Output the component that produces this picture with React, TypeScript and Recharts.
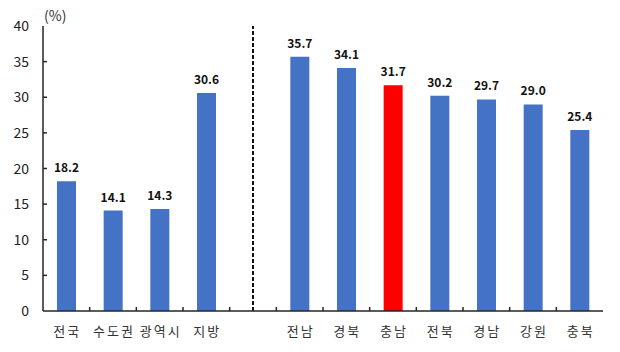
import { BarChart, Bar, XAxis, YAxis, Cell, LabelList, ReferenceLine } from "recharts";

const categories = ["전국", "수도권", "광역시", "지방", " ", "전남", "경북", "충남", "전북", "경남", "강원", "충북"];
const values = [18.2, 14.1, 14.3, 30.6, null, 35.7, 34.1, 31.7, 30.2, 29.7, 29.0, 25.4];
const highlight = "충남";
const yTicks = [0, 5, 10, 15, 20, 25, 30, 35, 40];

const data = categories.map((name, i) => ({ name, value: values[i] }));

const BLUE = "#4472C4";
const RED = "#FF0000";
const AXIS = "#262626";
const FONT = "'Noto Sans CJK KR', 'Noto Sans', sans-serif";
const BAND = 560 / categories.length;

const XTick = ({ x, y, payload, index }: any) => (
  <g>
    <text x={x + 1} y={y + 25} textAnchor="middle" fontSize={13} letterSpacing={2} fill="#333" fontFamily={FONT}>
      {payload.value}
    </text>
    {index < categories.length - 1 && (
      <line x1={x + BAND / 2} x2={x + BAND / 2} y1={y} y2={y - 4} stroke={AXIS} strokeWidth={1.5} />
    )}
  </g>
);

const YTick = ({ x, y, payload }: any) => (
  <g>
    <text x={x - 14} y={y + 5} textAnchor="end" fontSize={14} fill="#222" fontFamily={FONT}>
      {payload.value}
    </text>
    {payload.value !== 0 && payload.value !== 40 && (
      <line x1={x} x2={x + 4} y1={y} y2={y} stroke={AXIS} strokeWidth={1.5} />
    )}
  </g>
);

const ValueLabel = ({ x, y, width, value }: any) => {
  if (value == null) return null;
  return (
    <text x={x + width / 2} y={y - 9} textAnchor="middle" fontSize={12} fontWeight="bold" fill="#111" fontFamily={FONT}>
      {Number(value).toFixed(1)}
    </text>
  );
};

export default function App() {
  return (
    <div style={{ position: "absolute", left: 0, top: 0, width: 620, height: 352, background: "#fff" }}>
      <BarChart width={620} height={352} data={data} margin={{ top: 26, right: 17, left: 0, bottom: 11 }}>
        <XAxis
          dataKey="name"
          interval={0}
          height={30}
          tickLine={false}
          tickSize={0}
          tickMargin={0}
          tick={<XTick />}
          axisLine={{ stroke: AXIS, strokeWidth: 1.5 }}
        />
        <XAxis xAxisId="top" dataKey="name" orientation="top" height={0} tick={false} tickLine={false} axisLine={{ stroke: AXIS, strokeWidth: 1.5 }} />
        <YAxis
          domain={[0, 40]}
          ticks={yTicks}
          width={43}
          tickLine={false}
          tickSize={0}
          tickMargin={0}
          tick={<YTick />}
          axisLine={{ stroke: AXIS, strokeWidth: 1.5 }}
        />
        <YAxis yAxisId="right" orientation="right" domain={[0, 40]} width={0} tick={false} tickLine={false} axisLine={{ stroke: AXIS, strokeWidth: 1.5 }} />
        <ReferenceLine x=" " stroke="#111" strokeWidth={2} strokeDasharray="4 2" />
        <Bar dataKey="value" barSize={19} isAnimationActive={false}>
          {data.map((d, i) => (
            <Cell key={`cell-${i}`} fill={d.name === highlight ? RED : BLUE} />
          ))}
          <LabelList dataKey="value" content={<ValueLabel />} />
        </Bar>
        <text x={44} y={21} fontSize={14} fill="#333" fontFamily={FONT}>
          (%)
        </text>
      </BarChart>
    </div>
  );
}
